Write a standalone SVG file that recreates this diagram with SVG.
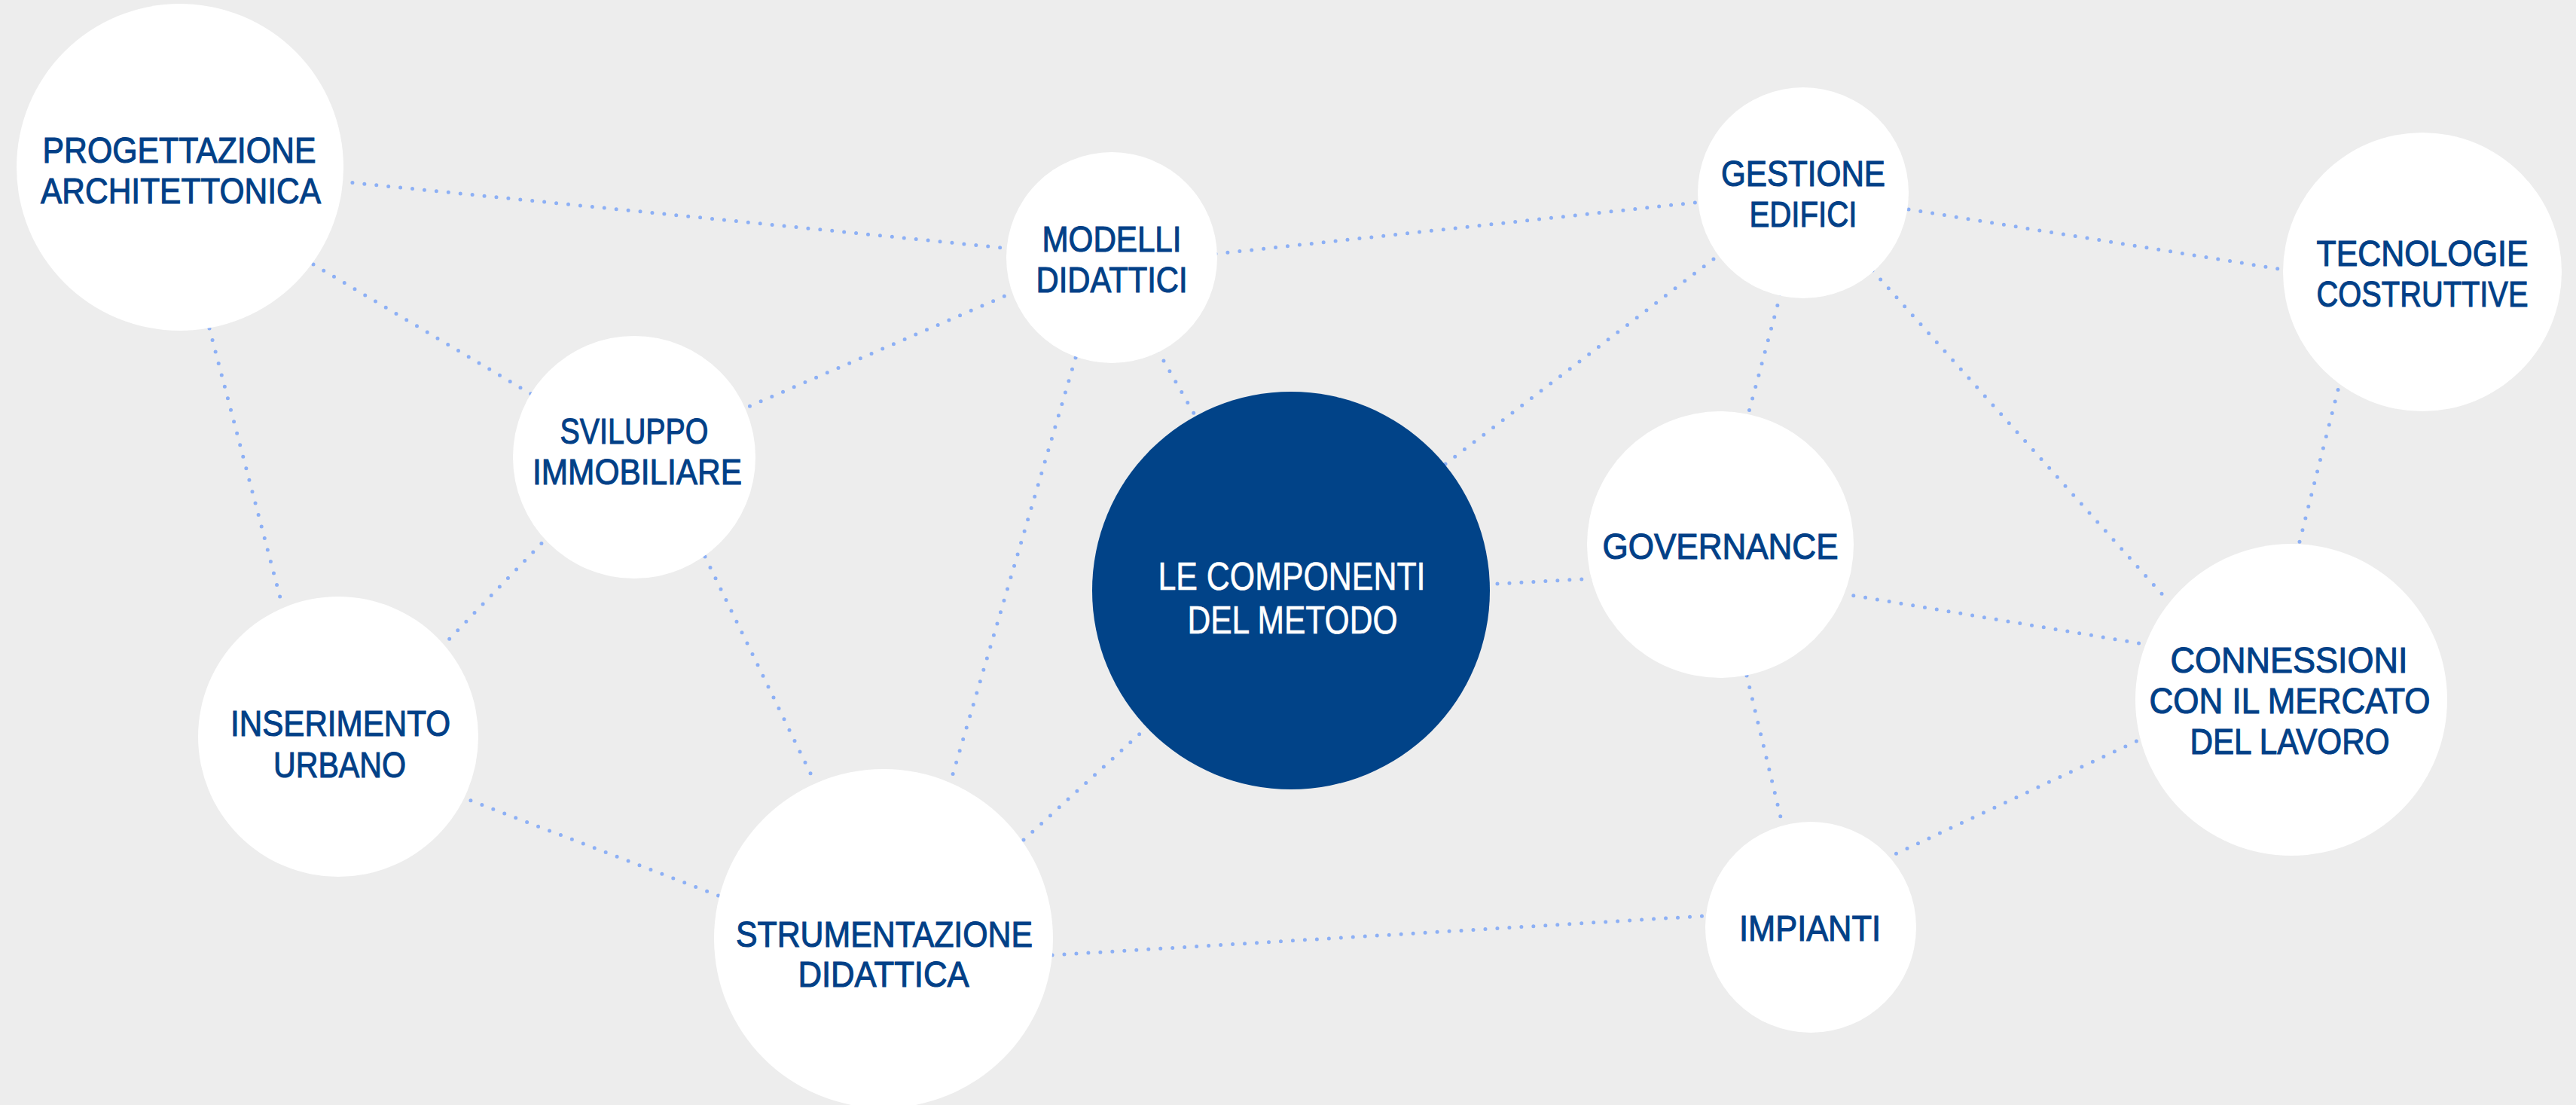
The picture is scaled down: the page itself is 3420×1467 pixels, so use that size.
<svg xmlns="http://www.w3.org/2000/svg" width="3420" height="1467" viewBox="0 0 3420 1467">
  <style>
    .bg { fill: #ededed; }
    .link { stroke: #8db0f5; stroke-width: 5; stroke-linecap: round; stroke-dasharray: 0 16; fill: none; }
    .node { fill: #ffffff; }
    .core { fill: #014388; }
    .lbl { font-family: "Liberation Sans", Arial, sans-serif; font-size: 49px; fill: #024087; stroke: #024087; stroke-width: 1.1; text-anchor: middle; }
    .lbl-core { font-family: "Liberation Sans", Arial, sans-serif; font-size: 52px; fill: #ffffff; stroke: #ffffff; stroke-width: 0.6; text-anchor: middle; }
  </style>

  <rect class="bg" x="0" y="0" width="3420" height="1467"/>

  <!-- dotted connectors, drawn beneath the circles -->
  <g id="connectors">
    <line class="link" x1="452" y1="241" x2="1341" y2="330"/>
    <line class="link" x1="416" y1="351" x2="710" y2="526"/>
    <line class="link" x1="278" y1="436" x2="374" y2="801"/>
    <line class="link" x1="1614" y1="337" x2="2259" y2="268"/>
    <line class="link" x1="1348" y1="387" x2="989" y2="542"/>
    <line class="link" x1="1537" y1="465" x2="1588" y2="554"/>
    <line class="link" x1="1428" y1="475" x2="1262" y2="1038"/>
    <line class="link" x1="730" y1="710" x2="592" y2="853"/>
    <line class="link" x1="936" y1="739" x2="1081" y2="1037"/>
    <line class="link" x1="610" y1="1057" x2="959" y2="1191"/>
    <line class="link" x1="1359" y1="1115" x2="1531" y2="958"/>
    <line class="link" x1="1397" y1="1268" x2="2263" y2="1216"/>
    <line class="link" x1="1972" y1="776" x2="2117" y2="768"/>
    <line class="link" x1="1919" y1="616" x2="2284" y2="337"/>
    <line class="link" x1="2364" y1="390" x2="2321" y2="550"/>
    <line class="link" x1="2534" y1="278" x2="3038" y2="359"/>
    <line class="link" x1="2486" y1="359" x2="2876" y2="795"/>
    <line class="link" x1="3108" y1="502" x2="3051" y2="727"/>
    <line class="link" x1="2445" y1="788" x2="2852" y2="856"/>
    <line class="link" x1="2319" y1="897" x2="2366" y2="1093"/>
    <line class="link" x1="2503" y1="1140" x2="2843" y2="981"/>
  </g>

  <g id="node-progettazione">
    <circle class="node" cx="239" cy="222" r="217"/>
    <text class="lbl" x="238" y="216" textLength="363" lengthAdjust="spacingAndGlyphs">PROGETTAZIONE</text>
    <text class="lbl" x="240" y="270" textLength="372" lengthAdjust="spacingAndGlyphs">ARCHITETTONICA</text>
  </g>

  <g id="node-modelli">
    <circle class="node" cx="1476" cy="342" r="140"/>
    <text class="lbl" x="1476" y="334" textLength="185" lengthAdjust="spacingAndGlyphs">MODELLI</text>
    <text class="lbl" x="1476" y="388" textLength="201" lengthAdjust="spacingAndGlyphs">DIDATTICI</text>
  </g>

  <g id="node-sviluppo">
    <circle class="node" cx="842" cy="607" r="161"/>
    <text class="lbl" x="842" y="589" textLength="197" lengthAdjust="spacingAndGlyphs">SVILUPPO</text>
    <text class="lbl" x="846" y="643" textLength="278" lengthAdjust="spacingAndGlyphs">IMMOBILIARE</text>
  </g>

  <g id="node-gestione">
    <circle class="node" cx="2394" cy="256" r="140"/>
    <text class="lbl" x="2394" y="247" textLength="218" lengthAdjust="spacingAndGlyphs">GESTIONE</text>
    <text class="lbl" x="2394" y="301" textLength="143" lengthAdjust="spacingAndGlyphs">EDIFICI</text>
  </g>

  <g id="node-tecnologie">
    <circle class="node" cx="3216" cy="361" r="185"/>
    <text class="lbl" x="3216" y="353" textLength="281" lengthAdjust="spacingAndGlyphs">TECNOLOGIE</text>
    <text class="lbl" x="3216" y="407" textLength="281" lengthAdjust="spacingAndGlyphs">COSTRUTTIVE</text>
  </g>

  <g id="node-componenti">
    <circle class="core" cx="1714" cy="784" r="264"/>
    <text class="lbl-core" x="1715" y="783" textLength="355" lengthAdjust="spacingAndGlyphs">LE COMPONENTI</text>
    <text class="lbl-core" x="1716" y="841" textLength="279" lengthAdjust="spacingAndGlyphs">DEL METODO</text>
  </g>

  <g id="node-governance">
    <circle class="node" cx="2284" cy="723" r="177"/>
    <text class="lbl" x="2284" y="742" textLength="313" lengthAdjust="spacingAndGlyphs">GOVERNANCE</text>
  </g>

  <g id="node-connessioni">
    <circle class="node" cx="3042" cy="929" r="207"/>
    <text class="lbl" x="3039" y="893" textLength="315" lengthAdjust="spacingAndGlyphs">CONNESSIONI</text>
    <text class="lbl" x="3040" y="947" textLength="373" lengthAdjust="spacingAndGlyphs">CON IL MERCATO</text>
    <text class="lbl" x="3040" y="1001" textLength="265" lengthAdjust="spacingAndGlyphs">DEL LAVORO</text>
  </g>

  <g id="node-inserimento">
    <circle class="node" cx="449" cy="978" r="186"/>
    <text class="lbl" x="452" y="977" textLength="292" lengthAdjust="spacingAndGlyphs">INSERIMENTO</text>
    <text class="lbl" x="451" y="1032" textLength="176" lengthAdjust="spacingAndGlyphs">URBANO</text>
  </g>

  <g id="node-strumentazione">
    <circle class="node" cx="1173" cy="1246" r="225"/>
    <text class="lbl" x="1174" y="1257" textLength="394" lengthAdjust="spacingAndGlyphs">STRUMENTAZIONE</text>
    <text class="lbl" x="1173" y="1310" textLength="227" lengthAdjust="spacingAndGlyphs">DIDATTICA</text>
  </g>

  <g id="node-impianti">
    <circle class="node" cx="2404" cy="1231" r="140"/>
    <text class="lbl" x="2403" y="1249" textLength="188" lengthAdjust="spacingAndGlyphs">IMPIANTI</text>
  </g>
</svg>
